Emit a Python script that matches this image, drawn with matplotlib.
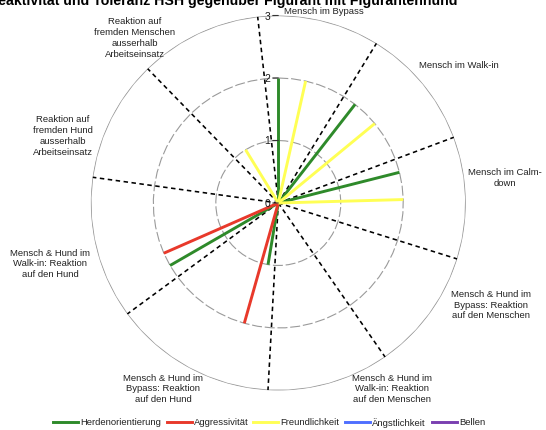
import numpy as np
import matplotlib
matplotlib.use("Agg")
import matplotlib.pyplot as plt
from matplotlib.lines import Line2D

plt.rcParams['font.family'] = ['Liberation Sans', 'DejaVu Sans']

# ---------------- data ----------------
title = "Reaktivität und Toleranz HSH gegenüber Figurant mit Figurantenhund"

categories = [
    "Mensch im Bypass",
    "Mensch im Walk-in",
    "Mensch im Calm-\ndown",
    "Mensch & Hund im\nBypass: Reaktion\nauf den Menschen",
    "Mensch & Hund im\nWalk-in: Reaktion\nauf den Menschen",
    "Mensch & Hund im\nBypass: Reaktion\nauf den Hund",
    "Mensch & Hund im\nWalk-in: Reaktion\nauf den Hund",
    "Reaktion auf\nfremden Hund\nausserhalb\nArbeitseinsatz",
    "Reaktion auf\nfremden Menschen\nausserhalb\nArbeitseinsatz",
]

series_names = ["Herdenorientierung", "Aggressivität", "Freundlichkeit", "Ängstlichkeit", "Bellen"]
series_colors = ["#2e8a2a", "#e8392b", "#ffff55", "#4f6fff", "#7a3fb0"]

# radar slots (as in the source radar chart, 57 category slots)
n_slots = 57
boundary_slots = [5, 11, 17, 23, 29, 37, 44, 50, 56]

herden_slots = [0, 6, 12, 30, 38]
herden_vals = [2, 2, 2, 1, 2]
aggr_slots = [31, 39]
aggr_vals = [2, 2]
freund_slots = [2, 8, 14, 52]
freund_vals = [2, 2, 2, 1]
angst_slots = []
angst_vals = []
bellen_slots = []
bellen_vals = []

series_slots = [herden_slots, aggr_slots, freund_slots, angst_slots, bellen_slots]
series_vals = [herden_vals, aggr_vals, freund_vals, angst_vals, bellen_vals]

r_ticks = [0, 1, 2, 3]

# ---------------- layout ----------------
W, H = 546, 431
fig = plt.figure(figsize=(W / 100, H / 100), dpi=100)

cx, cy, R = 278.3, 204.0, 187.5   # centre (px from top-left) and outer radius
ax = fig.add_axes([(cx - R) / W, (H - cy - R) / H, 2 * R / W, 2 * R / H], projection='polar')
ax.set_theta_zero_location('N')
ax.set_theta_direction(-1)
ax.set_ylim(0, 3)
ax.set_axis_off()

def ang(slot):
    return 2 * np.pi * slot / n_slots

# grid rings (polygons through all slots)
poly_t = np.array([ang(s) for s in range(n_slots + 1)])
for rv in r_ticks[1:]:
    if rv == r_ticks[-1]:
        ax.plot(poly_t, np.full_like(poly_t, rv), color="#9a9a9a", lw=0.9, zorder=1)
    else:
        ax.plot(poly_t, np.full_like(poly_t, rv), color="#9a9a9a", lw=0.8,
                linestyle=(0, (9, 2.5)), zorder=1)

# dashed category separators
for s in boundary_slots:
    ax.plot([ang(s), ang(s)], [0, r_ticks[-1]], color="black", lw=1.15,
            linestyle=(0, (2.8, 2.2)), zorder=2)

# series spokes
for slots, vals, col in zip(series_slots, series_vals, series_colors):
    for s, v in zip(slots, vals):
        ax.plot([ang(s), ang(s)], [0, v], color=col, lw=2.1,
                solid_capstyle='butt', zorder=3)

# value axis labels and tick marks
for rv in r_ticks:
    ax.annotate('', xy=(0, rv), xytext=(-4, 0), textcoords='offset points',
                arrowprops=dict(arrowstyle='-', lw=0.8, color='#333333',
                                shrinkA=0, shrinkB=0), zorder=4)
    ax.annotate(str(rv), xy=(0, rv), xytext=(-6, 0), textcoords='offset points',
                ha='right', va='center', fontsize=7.5, color='#1a1a1a', zorder=4)

# category labels (centre positions in px)
label_pos = [
    (324, 11), (459, 66), (505, 178), (491, 305), (392, 389),
    (163, 389), (50, 264), (63, 136), (135, 38),
]
for txt, (px, py) in zip(categories, label_pos):
    fig.text(px / W, 1 - py / H, txt, ha='center', va='center', fontsize=6.8,
             color='#222222', linespacing=1.25)

# title (cut off at the top, as in the reference)
fig.text(458 / W, 1 - 5.5 / H, title, ha='right', va='baseline', fontsize=10.2,
         weight='bold', color='black')

# legend
leg_x = [53, 167, 253, 345, 432]
leg_y = 1 - 423 / H
for name, col, x0 in zip(series_names, series_colors, leg_x):
    fig.add_artist(Line2D([x0 / W, (x0 + 25) / W], [leg_y, leg_y], color=col, lw=2.1,
                          transform=fig.transFigure))
    fig.text((x0 + 27) / W, leg_y, name, ha='left', va='center', fontsize=6.8,
             color='#222222')

fig.savefig("out.png", dpi=100)
